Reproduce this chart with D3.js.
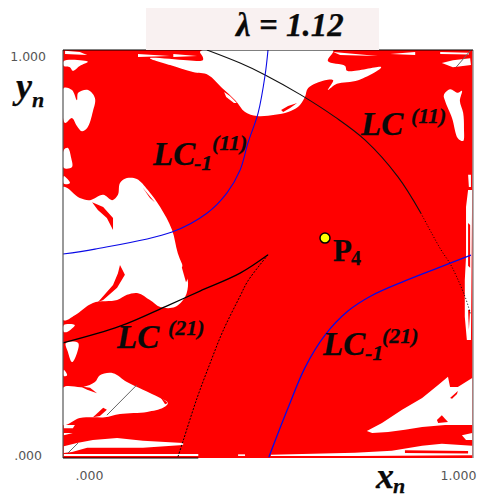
<!DOCTYPE html>
<html><head><meta charset="utf-8"><script src="https://cdnjs.cloudflare.com/ajax/libs/d3/7.8.5/d3.min.js"></script>
<style>html,body{margin:0;padding:0;background:#fff}svg{display:block}
.s{font-family:"Liberation Serif",serif;font-weight:bold;font-style:italic;fill:#0a0a0a;stroke:#0a0a0a;stroke-width:.25px}
.t{font-family:"DejaVu Sans",sans-serif;font-size:12.5px;fill:#555}</style></head><body><script>
const tickValues=[0,1];
const tickLabels=[".000","1.000"];
// rounded white areas of the phase plane (x,y)
const whiteAreas=[
[[.341,1],[.334,.995],[.341,.983],[.341,.975],[.302,.975],[.212,.980],[.261,.963],[.317,.946],[.354,.939],[.388,.907],[.420,.877],[.444,.848],[.473,.838],[.517,.841],[.549,.848],[.573,.860],[.590,.885],[.598,.907],[.639,.926],[.659,.926],[.646,.902],[.668,.917],[.720,.926],[.776,.958],[.693,.949],[.688,.961],[.646,.973],[.659,1]],
[[.002,.907],[.022,.902],[.034,.877],[.037,.895],[.061,.902],[.078,.882],[.073,.850],[.059,.809],[.046,.801],[.034,.814],[.022,.833],[.005,.821]],
[[.002,.755],[.012,.760],[.020,.735],[.022,.713],[.002,.711]],
[[.002,.691],[.017,.674],[.002,.672]],
[[.002,.973],[.061,.971],[.041,.961],[.024,.949],[.017,.958],[.002,.961]],
[[0,.664],[.041,.637],[.066,.632],[.098,.645],[.120,.632],[.134,.645],[.139,.674],[.156,.686],[.180,.684],[.207,.657],[.237,.615],[.266,.559],[.280,.502],[.298,.456],[.305,.429],[.298,.395],[.273,.370],[.237,.370],[.212,.387],[.183,.404],[.156,.400],[.132,.387],[.073,.380],[.029,.350],[0,.338]],
[[.002,.326],[.029,.326],[.010,.309],[.002,.309]],
[[.007,.282],[.037,.282],[.034,.257],[.022,.235],[.012,.260]],
[[.002,.216],[.010,.203],[.002,.201]],
[[0,.172],[.049,.174],[.078,.186],[.090,.203],[.122,.208],[.156,.186],[.195,.167],[.237,.147],[.256,.135],[.244,.123],[.205,.113],[.139,.108],[.102,.100],[.071,.100],[.041,.098],[0,.081]],
[[.929,.890],[.944,.904],[.963,.895],[.973,.900],[.968,.875],[.976,.846],[.978,.809],[.976,.777],[.963,.784],[.949,.833],[.932,.875]]
];
// straight-edged white stripes and wedges
const whiteStripes=[
[[.005,.998],[.041,.995],[.059,.988],[.005,.990]],
[[.002,.081],[.029,.081],[.024,.073],[.002,.073]],
[[.002,.061],[.024,.061],[.002,.056]],
[[.002,.029],[.034,.037],[.073,.044],[.132,.049],[.195,.042],[.293,.037],[.293,.032],[.195,.025],[.132,.025],[.059,.025],[.022,.015],[.002,.012]],
[[.002,.010],[.330,.010],[.330,.005],[.002,.005]],
[[.741,.066],[.778,.086],[.827,.118],[.876,.147],[.915,.179],[.939,.199],[.944,.174],[.963,.174],[.998,.196],[.998,.081],[.932,.081],[.876,.076],[.834,.069],[.793,.064],[.754,.061]],
[[.973,.056],[.998,.061],[.998,.044],[.983,.044]],
[[.507,.008],[.712,.013],[.802,.018],[.876,.030],[.924,.035],[.998,.030],[.998,.007],[.712,.005],[.507,.005]],
[[.427,.009],[.444,.009],[.444,.005],[.427,.005]],
[[.988,.657],[.983,.615],[.983,.493],[.980,.436],[.980,.346],[.985,.289],[.995,.289],[.998,.657]],
[[.988,.694],[.995,.694],[.995,.664],[.990,.664]],
[[.924,.968],[.951,.975],[.993,.980],[.995,.963],[.951,.958]],
[[.659,.995],[.768,.985],[.676,.988]],
[[.798,.990],[.859,.995],[.859,.988]],
[[.920,.995],[.990,.993],[.990,.989],[.920,.990]],
[[.183,.990],[.261,.985],[.183,.983]],
[[.269,.990],[.327,.985],[.269,.983]]
];
// red slivers lying inside the white areas
const redSlivers=[
[[.071,.627],[.098,.615],[.122,.588],[.122,.559],[.107,.588],[.085,.608]],
[[.195,.662],[.224,.627],[.212,.637]],
[[.139,.473],[.151,.449],[.132,.417],[.098,.387],[.085,.382],[.122,.424],[.134,.453]],
[[.293,.478],[.305,.441],[.300,.431],[.290,.466]],
[[.041,.176],[.066,.172],[.083,.159],[.059,.167]],
[[.073,.100],[.098,.123],[.107,.118],[.090,.103]],
[[.237,.150],[.256,.135],[.249,.132]],
[[.912,.093],[.924,.105],[.939,.088],[.915,.086]],
[[.944,.147],[.963,.164],[.961,.157],[.949,.145]],
[[.834,.019],[.988,.017],[.988,.011],[.834,.012]],
[[.532,.853],[.549,.863],[.571,.870],[.554,.858],[.537,.848]],
[[.988,.576],[.993,.571],[.993,.466],[.988,.471]],
[[.988,.363],[.993,.363],[.990,.314]]
];
// white slivers lying inside the red area
const whiteSlivers=[[[.393,.897],[.407,.887],[.424,.870],[.417,.870],[.398,.885]]];
const lc11Solid=[[.351,1],[.432,.968],[.493,.939],[.580,.890],[.663,.836],[.737,.779],[.817,.689],[.873,.600]];
const lc11Dotted=[[.873,.600],[.922,.510],[.946,.473],[.980,.397],[.995,.350]];
const lcm11=[[0,.500],[.078,.512],[.266,.554],[.351,.600],[.400,.650],[.432,.706],[.451,.772],[.476,.846],[.493,.939],[.500,1]];
const lc21upper=[[0,.282],[.139,.323],[.254,.373],[.334,.409],[.432,.453],[.500,.498]];
const lc21lower=[[.500,.498],[.451,.434],[.432,.397],[.390,.311],[.359,.233],[.327,.147],[.293,.042],[.280,.002]];
const lcm21=[[.502,.002],[.549,.123],[.590,.221],[.639,.301],[.695,.360],[.751,.397],[.834,.434],[.915,.466],[.995,.497]];
const thinLines=[[[.180,.179],[.107,.105]],[[.037,.037],[.012,.012]],[[.959,.958],[.995,1]]];
const p4=[.639,.539];

const x=d3.scaleLinear().domain([0,1]).range([63,473]);
const y=d3.scaleLinear().domain([0,1]).range([458,50]);
const svg=d3.select("body").append("svg").attr("width",478).attr("height",498);
svg.append("rect").attr("x",x(0)).attr("y",y(1)).attr("width",x(1)-x(0)).attr("height",y(0)-y(1)).attr("fill","#ff0000");
const poly=d3.line().x(d=>x(d[0])).y(d=>y(d[1]));
const blob=d3.line().x(d=>x(d[0])).y(d=>y(d[1])).curve(d3.curveCatmullRomClosed.alpha(0.5));
svg.append("g").selectAll("path").data(whiteAreas).join("path").attr("d",d=>blob(d)).attr("fill","#fff");
svg.append("g").selectAll("path").data(whiteStripes).join("path").attr("d",d=>poly(d)+"Z").attr("fill","#fff");
svg.append("g").selectAll("path").data(redSlivers).join("path").attr("d",d=>poly(d)+"Z").attr("fill","#ff0000");
svg.append("g").selectAll("path").data(whiteSlivers).join("path").attr("d",d=>poly(d)+"Z").attr("fill","#fff");
const curve=d3.line().x(d=>x(d[0])).y(d=>y(d[1])).curve(d3.curveCatmullRom);
const stroke=(data,col,w,dash)=>svg.append("path").attr("d",curve(data)).attr("fill","none").attr("stroke",col).attr("stroke-width",w).attr("stroke-dasharray",dash||null);
stroke(lc11Solid,"#111",1.1);
stroke(lc11Dotted,"#000",1,"1 2");
stroke(lcm11,"#0a0ae6",1.1);
stroke(lc21upper,"#000",1.3);
stroke(lc21lower,"#000",1,"2 1.5");
stroke(lcm21,"#0a0ae6",1.3);
thinLines.forEach(l=>svg.append("path").attr("d",poly(l)).attr("stroke","#666").attr("stroke-width",1).attr("fill","none"));
// frame
svg.append("line").attr("x1",x(0)).attr("x2",x(0)).attr("y1",y(1)).attr("y2",y(0)).attr("stroke","#555").attr("stroke-width",1.2);
svg.append("line").attr("x1",x(1)).attr("x2",x(1)).attr("y1",y(1)).attr("y2",y(0)).attr("stroke","#999").attr("stroke-width",1.5);
svg.append("line").attr("x1",x(0)).attr("x2",x(1)).attr("y1",y(1)).attr("y2",y(1)).attr("stroke","#000").attr("stroke-width",1);
svg.append("line").attr("x1",x(0)).attr("x2",x(.33)).attr("y1",y(0)).attr("y2",y(0)).attr("stroke","#000").attr("stroke-width",1);
// title box
svg.append("rect").attr("x",146).attr("y",8).attr("width",233).attr("height",42).attr("fill","#f9f1f1");
// axes
const xa=svg.append("g").attr("transform","translate(0,458)").call(d3.axisBottom(x).tickValues(tickValues).tickSize(0).tickFormat((d,i)=>tickLabels[i]));
const ya=svg.append("g").attr("transform","translate(63,0)").call(d3.axisLeft(y).tickValues(tickValues).tickSize(0).tickFormat((d,i)=>tickLabels[i]));
xa.select(".domain").remove();ya.select(".domain").remove();
xa.selectAll("text").attr("class","t").attr("text-anchor","middle").attr("y",12).attr("dy","10").attr("dx",(d,i)=>i?-15:26);
ya.selectAll("text").attr("class","t").attr("text-anchor","end").attr("x",-17).attr("dy",(d,i)=>i?"10":"1").attr("dx",(d,i)=>i?0:-4);
// point
svg.append("circle").attr("cx",x(p4[0])).attr("cy",y(p4[1])).attr("r",5).attr("fill","#ffff00").attr("stroke","#000").attr("stroke-width",1.5);
// text
function lab(X,Y,txt,size,opt){const t=svg.append("text").attr("class","s").attr("x",X).attr("y",Y).attr("font-size",size).text(txt);if(opt==="up")t.style("font-style","normal");return t;}
lab(236,36,"λ = 1.12",33);
lab(16,98,"y",36);lab(32,107,"n",22);
lab(376,488,"x",36);lab(393,493,"n",22);
lab(153,165,"LC",33);lab(194,170,"-1",22);lab(212,150,"(11)",22);
lab(361,135,"LC",33);lab(411,123,"(11)",22);
lab(117,348,"LC",33);lab(168,335,"(21)",22);
lab(323,355,"LC",33);lab(365,360,"-1",22);lab(382,343,"(21)",22);
lab(333,261,"P",31,"up");lab(351,265,"4",20,"up");
</script></body></html>
